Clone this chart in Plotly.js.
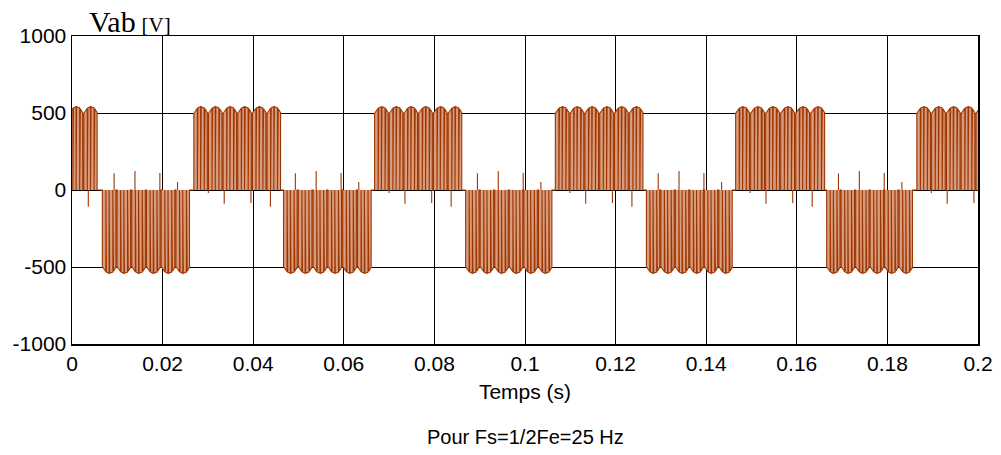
<!DOCTYPE html>
<html>
<head>
<meta charset="utf-8">
<script src="https://cdn.plot.ly/plotly-3.0.1.min.js"></script>
<style>
  html, body { margin: 0; padding: 0; background: #fff; }
  #chart { width: 1001px; height: 455px; }
</style>
</head>
<body>
<div id="chart"></div>
<script>
// ---- Data ----
// Half-cycle blocks of the line voltage (seconds)
const posBlockStart = [-0.0134, 0.0268, 0.0667, 0.1066, 0.1464, 0.1864];
const posBlockEnd   = [0.0057, 0.0462, 0.0862, 0.1262, 0.1663, 0.2060];
const negBlockStart = [0.0066, 0.0466, 0.0868, 0.1267, 0.1665];
const negBlockEnd   = [0.0261, 0.0662, 0.1061, 0.1459, 0.1857];

// Number of ripple humps in one block
const humpsPerBlock = 6;
// Pulse pattern inside one hump (fraction of hump length) and pulse levels (V)
const pulseOn   = [0.03, 0.31, 0.53, 0.79];
const pulseOff  = [0.27, 0.49, 0.74, 0.95];
const levelOn   = [498, 534, 541, 528];
const levelOff  = [531, 541, 533, 502];

// Opposite-polarity spikes (time after block start in s, amplitude in V)
const negSpikeRel = [0.0027, 0.0073, 0.0128, 0.0167];
const negSpikeMag = [108, 123, 110, 52];
const posSpikeRel = [0.0033, 0.0068, 0.0127, 0.0170];
const posSpikeMag = [-20, -90, -85, -108];

const xTickVals  = [0, 0.02, 0.04, 0.06, 0.08, 0.1, 0.12, 0.14, 0.16, 0.18, 0.2];
const xTickText  = ["0", "0.02", "0.04", "0.06", "0.08", "0.1", "0.12", "0.14", "0.16", "0.18", "0.2"];
const yTickVals  = [-1000, -500, 0, 500, 1000];
const yTickText  = ["-1000", "-500", "0", "500", "1000"];

// ---- Build the waveform from the block data ----
const blocks = [];
posBlockStart.forEach((s, i) => blocks.push({ s, e: posBlockEnd[i], sign: 1 }));
negBlockStart.forEach((s, i) => blocks.push({ s, e: negBlockEnd[i], sign: -1 }));
blocks.sort((a, b) => a.s - b.s);

const vx = [], vy = [];
blocks.forEach(b => {
  const hl = (b.e - b.s) / humpsPerBlock;
  for (let h = 0; h < humpsPerBlock; h++) {
    for (let p = 0; p < pulseOn.length; p++) {
      const tOn = b.s + (h + pulseOn[p]) * hl;
      const tOff = b.s + (h + pulseOff[p]) * hl;
      vx.push(tOn, tOn, tOff, tOff);
      vy.push(0, b.sign * levelOn[p], b.sign * levelOff[p], 0);
    }
  }
});

const sx = [], sy = [];
blocks.forEach(b => {
  const rel = b.sign > 0 ? posSpikeRel : negSpikeRel;
  const mag = b.sign > 0 ? posSpikeMag : negSpikeMag;
  rel.forEach((r, i) => { const t = b.s + r; sx.push(t, t, null); sy.push(0, mag[i], null); });
});

const color = 'rgb(158,54,0)';
const traces = [
  { x: vx, y: vy, type: 'scatter', mode: 'lines', fill: 'tozeroy', fillcolor: 'rgb(216,156,126)',
    line: { color: 'rgba(0,0,0,0)', width: 0 }, hoverinfo: 'skip' },
  { x: vx, y: vy, type: 'scatter', mode: 'lines', line: { color, width: 1.1 }, hoverinfo: 'skip' },
  { x: sx, y: sy, type: 'scatter', mode: 'lines', line: { color, width: 1.1 }, hoverinfo: 'skip' }
];

const font = { family: '"Liberation Sans", Arial, sans-serif', size: 21, color: '#000' };
const layout = {
  width: 1001, height: 455,
  margin: { l: 72, r: 23, t: 36, b: 111 },
  paper_bgcolor: '#fff', plot_bgcolor: '#fff',
  showlegend: false,
  font,
  xaxis: {
    range: [0, 0.2], tickvals: xTickVals, ticktext: xTickText,
    showgrid: true, gridcolor: '#000', gridwidth: 1,
    zeroline: false, showline: true, mirror: true, linecolor: '#000', linewidth: 1.5,
    ticks: '', tickfont: font,
    title: { text: 'Temps (s)', font, standoff: 10 }
  },
  yaxis: {
    range: [-1000, 1000], tickvals: yTickVals, ticktext: yTickText,
    showgrid: true, gridcolor: '#000', gridwidth: 1,
    zeroline: false, showline: true, mirror: true, linecolor: '#000', linewidth: 1.5,
    ticks: '', tickfont: font
  },
  annotations: [
    { xref: 'paper', yref: 'paper', x: 0.017, y: 1.0, xanchor: 'left', yanchor: 'bottom', yshift: -4,
      showarrow: false,
      text: '<span style="font-family:\'Liberation Serif\',\'Times New Roman\',serif;font-size:30px">Vab</span> <span style="font-family:\'Liberation Serif\',\'Times New Roman\',serif;font-size:21px">[V]</span>' },
    { xref: 'paper', yref: 'paper', x: 0.5, y: 0, xanchor: 'center', yanchor: 'middle', yshift: -93,
      showarrow: false, text: 'Pour Fs=1/2Fe=25 Hz', font: { family: font.family, size: 20, color: '#000' } }
  ]
};

Plotly.newPlot('chart', traces, layout, { staticPlot: true, displayModeBar: false });
</script>
</body>
</html>
